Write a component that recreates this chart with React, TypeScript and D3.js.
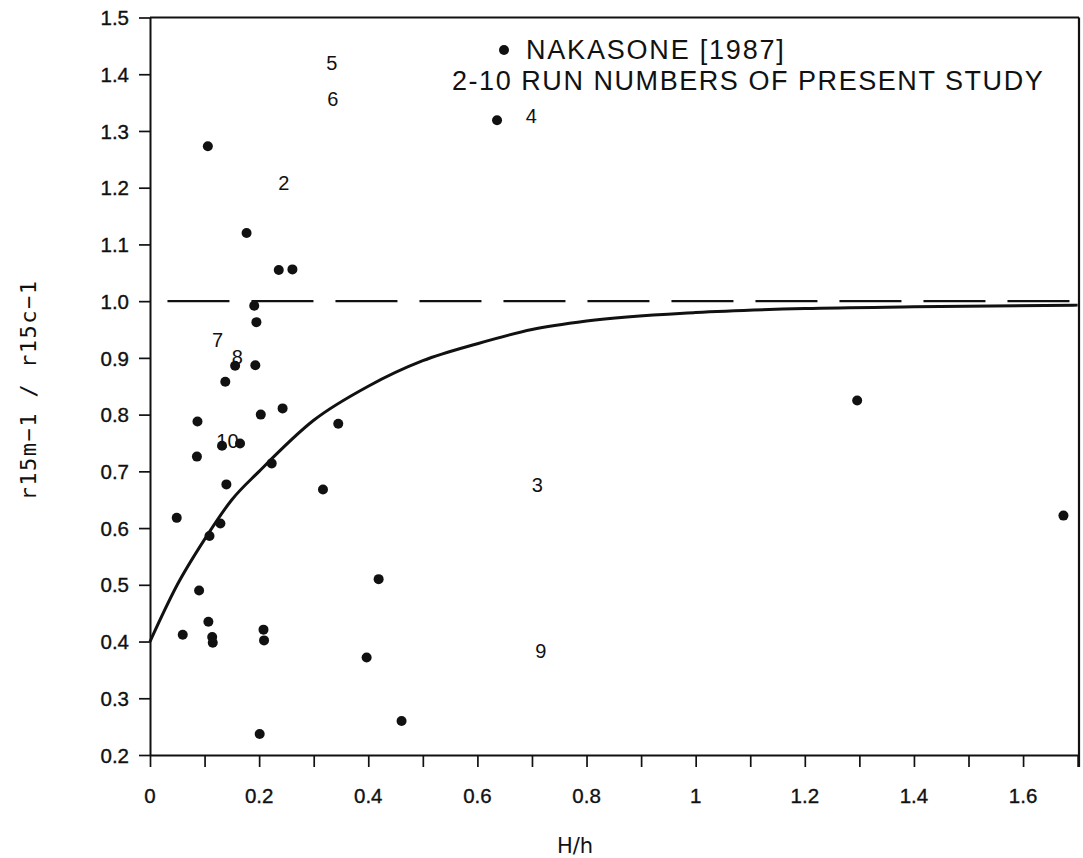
import React, { useEffect, useRef } from 'react';
import * as d3 from 'd3';

// Nakasone [1987] data points (H/h, ratio)
const nakasoneX = [0.106, 0.177, 0.236, 0.261, 0.636, 0.191, 0.195, 0.193, 0.156, 0.138, 0.203, 0.243, 0.087, 0.086, 0.132, 0.165, 0.140, 0.223, 0.345, 0.317, 0.049, 0.129, 0.109, 0.419, 0.090, 0.060, 0.107, 0.114, 0.115, 0.208, 0.209, 0.397, 0.201, 0.461, 1.296, 1.674];
const nakasoneY = [1.273, 1.120, 1.055, 1.056, 1.319, 0.992, 0.963, 0.887, 0.886, 0.858, 0.800, 0.811, 0.788, 0.726, 0.745, 0.749, 0.677, 0.714, 0.784, 0.668, 0.618, 0.608, 0.586, 0.510, 0.490, 0.412, 0.435, 0.408, 0.398, 0.421, 0.402, 0.372, 0.237, 0.260, 0.825, 0.622];

// Run numbers of present study
const runLabels = ['2', '3', '4', '5', '6', '7', '8', '9', '10'];
const runX = [0.245, 0.710, 0.699, 0.333, 0.335, 0.124, 0.160, 0.716, 0.142];
const runY = [1.208, 0.676, 1.327, 1.420, 1.356, 0.932, 0.902, 0.384, 0.753];

// Fitted curve
const curveX = [0, 0.05, 0.1, 0.15, 0.2, 0.3, 0.4, 0.5, 0.6, 0.7, 0.8, 1.0, 1.2, 1.4, 1.7];
const curveY = [0.40, 0.50, 0.58, 0.65, 0.70, 0.79, 0.85, 0.895, 0.925, 0.95, 0.965, 0.98, 0.987, 0.99, 0.993];

const xTickValues = [0, 0.1, 0.2, 0.3, 0.4, 0.5, 0.6, 0.7, 0.8, 0.9, 1.0, 1.1, 1.2, 1.3, 1.4, 1.5, 1.6, 1.7];
const xLabelValues = [0, 0.2, 0.4, 0.6, 0.8, 1.0, 1.2, 1.4, 1.6];
const yTickValues = [0.2, 0.3, 0.4, 0.5, 0.6, 0.7, 0.8, 0.9, 1.0, 1.1, 1.2, 1.3, 1.4, 1.5];
const referenceY = [1.0];

const legendLines = ['NAKASONE [1987]', '2-10 RUN NUMBERS OF PRESENT STUDY'];
const xTitle = 'H/h';
const yTitle = 'r15m\u22121 / r15c\u22121';

const W = 1083;
const H = 858;
const FONT = '"Liberation Sans", Arial, sans-serif';
const INK = '#111';

export default function App() {
  const ref = useRef<SVGSVGElement | null>(null);

  useEffect(() => {
    const svg = d3.select(ref.current);
    svg.selectAll('*').remove();

    const x = d3.scaleLinear().domain([0, 1.7025]).range([150, 1079]);
    const y = d3.scaleLinear().domain([0.2, 1.5]).range([755, 17.5]);

    svg.append('rect').attr('width', W).attr('height', H).attr('fill', '#fff');

    // top and right frame
    svg.append('line').attr('x1', x(0)).attr('x2', x.range()[1]).attr('y1', y(1.5)).attr('y2', y(1.5))
      .attr('stroke', INK).attr('stroke-width', 1.8);
    svg.append('line').attr('x1', x.range()[1]).attr('x2', x.range()[1]).attr('y1', y(1.5)).attr('y2', y(0.2) + 12)
      .attr('stroke', INK).attr('stroke-width', 2.2);

    // x axis
    const xAxis = d3.axisBottom(x).tickValues(xTickValues).tickSize(12).tickSizeOuter(0).tickFormat(() => '');
    const gx = svg.append('g').attr('transform', `translate(0,${y(0.2)})`).call(xAxis);
    gx.select('.domain').attr('stroke', INK).attr('stroke-width', 2);
    gx.selectAll('.tick line').attr('stroke', INK).attr('stroke-width', 1.7);

    svg.append('g').selectAll('text').data(xLabelValues).join('text')
      .attr('x', d => x(d)).attr('y', 803)
      .attr('text-anchor', 'middle')
      .attr('font-family', FONT).attr('font-size', 20.5).attr('fill', INK)
      .attr('stroke', INK).attr('stroke-width', 0.35)
      .text(d => (d === 0 ? '0' : d === 1 ? '1' : d.toFixed(1)));

    // y axis
    const yAxis = d3.axisLeft(y).tickValues(yTickValues).tickSize(11).tickSizeOuter(0).tickFormat(d3.format('.1f'));
    const gy = svg.append('g').attr('transform', `translate(${x(0)},0)`).call(yAxis);
    gy.select('.domain').attr('stroke', INK).attr('stroke-width', 2);
    gy.selectAll('.tick line').attr('stroke', INK).attr('stroke-width', 1.7);
    gy.selectAll('.tick text').attr('font-family', FONT).attr('font-size', 20.5).attr('fill', INK)
      .attr('stroke', INK).attr('stroke-width', 0.35)
      .attr('x', -21).attr('dy', '0.35em');

    // dashed reference line
    svg.append('g').selectAll('line').data(referenceY).join('line')
      .attr('x1', x(0.032)).attr('x2', x.range()[1]).attr('y1', d => y(d)).attr('y2', d => y(d))
      .attr('stroke', INK).attr('stroke-width', 2.2).attr('stroke-dasharray', '62 22');

    // fitted curve
    const pts = curveX.map((cx, i) => [cx, curveY[i]] as [number, number]);
    const line = d3.line<[number, number]>().x(d => x(d[0])).y(d => y(d[1])).curve(d3.curveMonotoneX);
    svg.append('path').attr('d', line(pts) as string).attr('fill', 'none')
      .attr('stroke', INK).attr('stroke-width', 3);

    // Nakasone points
    svg.append('g').selectAll('circle').data(nakasoneX.map((d, i) => [d, nakasoneY[i]])).join('circle')
      .attr('cx', d => x(d[0])).attr('cy', d => y(d[1])).attr('r', 5).attr('fill', INK);

    // run number labels
    svg.append('g').selectAll('text').data(runLabels).join('text')
      .attr('x', (d, i) => x(runX[i])).attr('y', (d, i) => y(runY[i]))
      .attr('text-anchor', 'middle').attr('dy', '0.36em')
      .attr('font-family', FONT).attr('font-size', 20).attr('fill', INK)
      .text(d => d);

    // legend
    svg.append('circle').attr('cx', 504).attr('cy', 50).attr('r', 5).attr('fill', INK);
    svg.append('text').attr('x', 526).attr('y', 59).attr('font-family', FONT).attr('font-size', 27)
      .attr('letter-spacing', 1.8).attr('fill', INK).text(legendLines[0]);
    svg.append('text').attr('x', 452).attr('y', 90).attr('font-family', FONT).attr('font-size', 27)
      .attr('letter-spacing', 1.55).attr('fill', INK).text(legendLines[1]);

    // axis titles
    svg.append('text').attr('x', 575).attr('y', 853).attr('text-anchor', 'middle')
      .attr('font-family', '"DejaVu Sans", sans-serif').attr('font-size', 21).attr('fill', INK).text(xTitle);
    svg.append('text').attr('transform', 'translate(28,390) rotate(-90)').attr('text-anchor', 'middle')
      .attr('dy', '0.35em').attr('font-family', '"DejaVu Sans Mono", monospace').attr('font-size', 22)
      .attr('letter-spacing', 1.5).attr('fill', INK).text(yTitle);
  }, []);

  return (
    <svg ref={ref} width={W} height={H} style={{ position: 'absolute', left: 0, top: 0 }} />
  );
}
